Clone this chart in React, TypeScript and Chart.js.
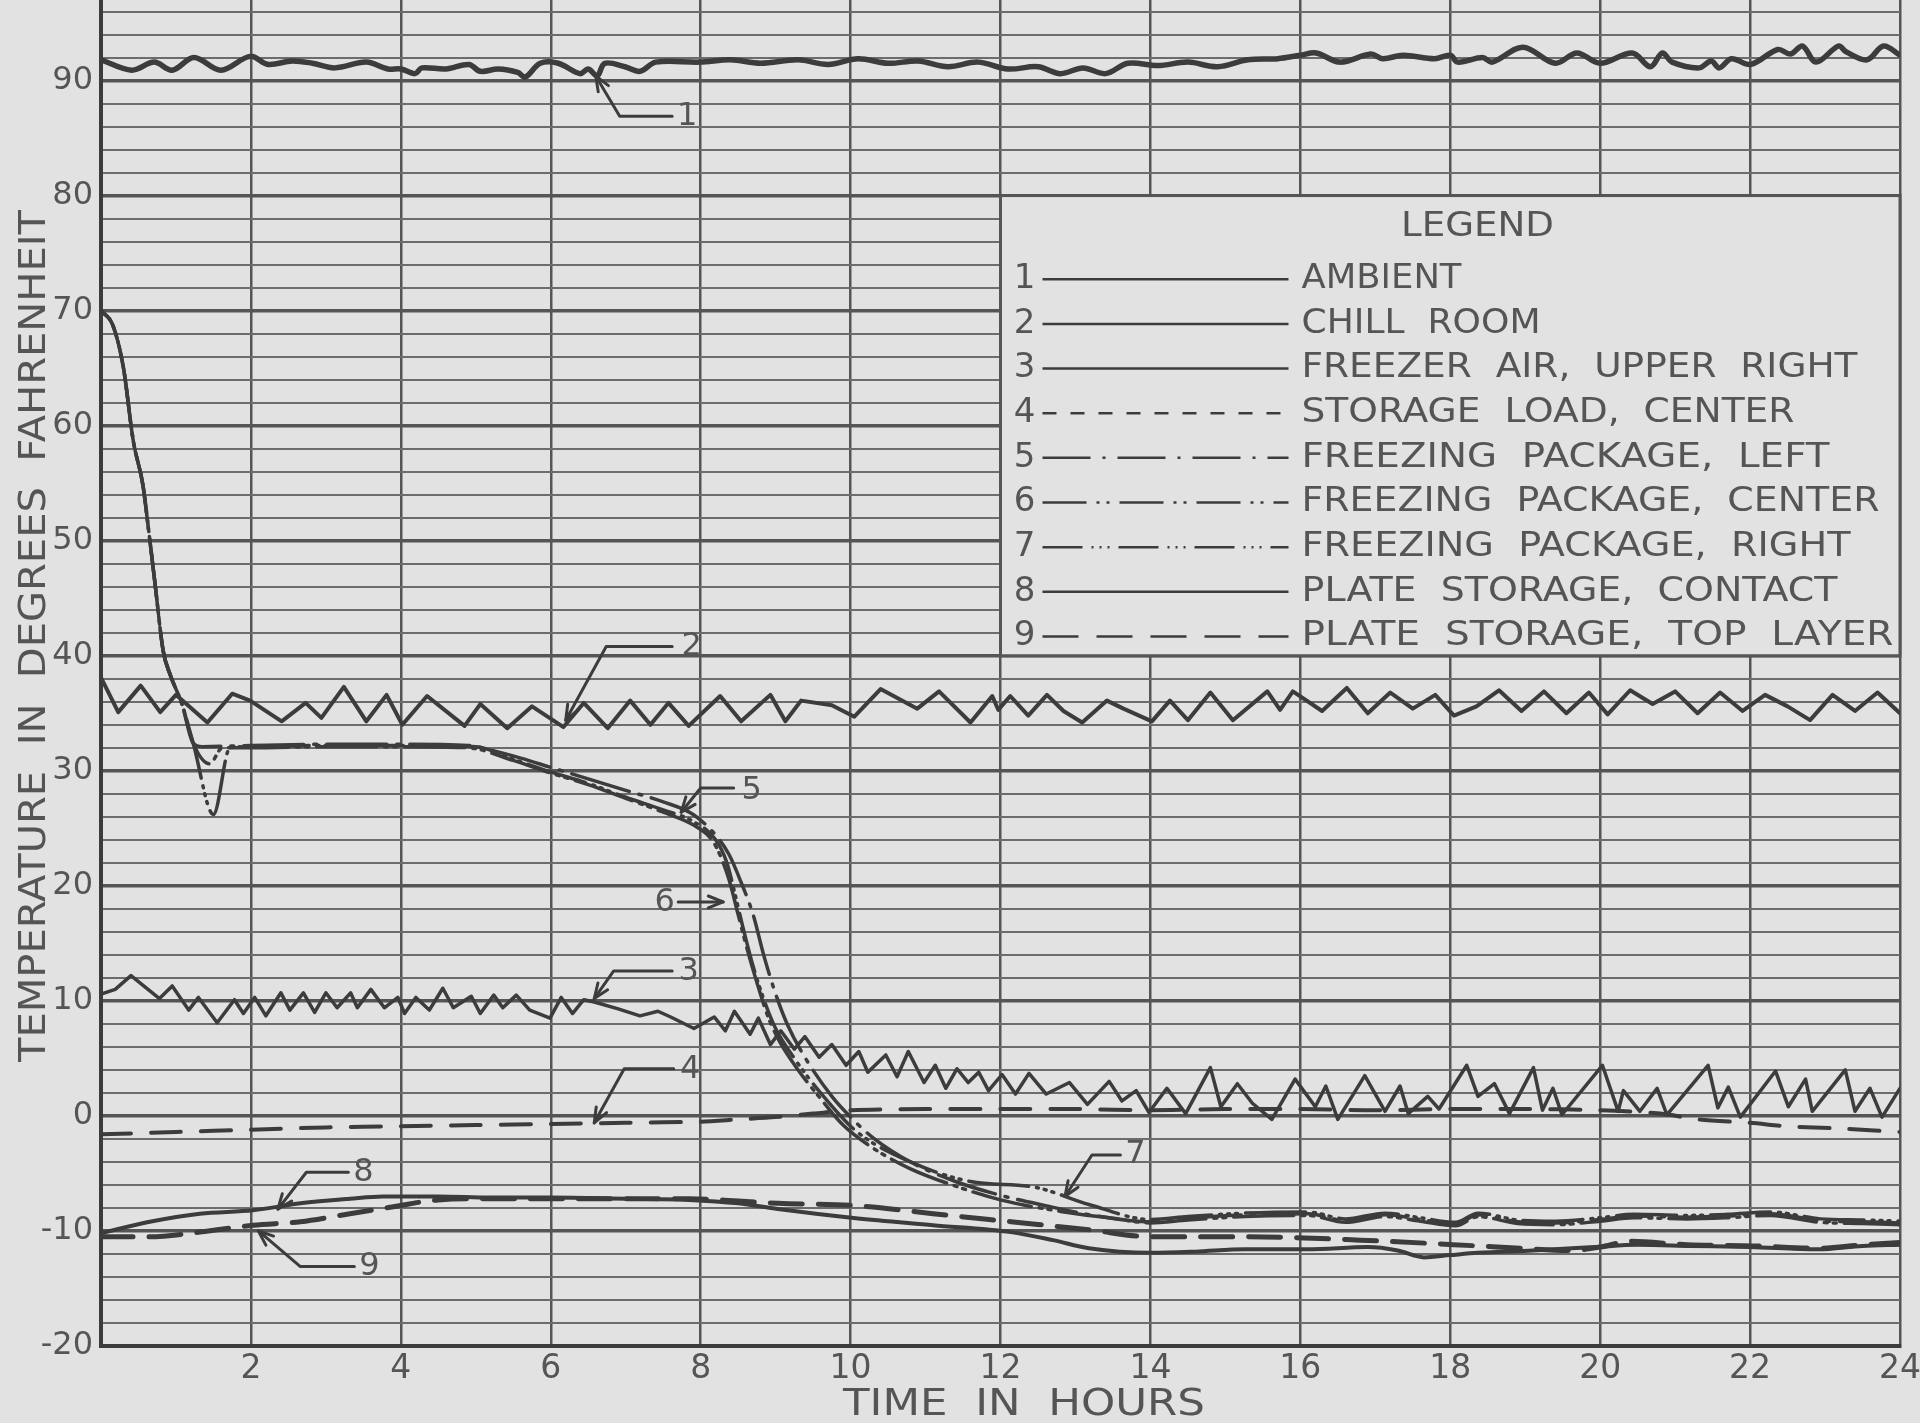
import React, { useEffect, useRef } from 'react';
import { Chart, registerables } from 'chart.js';

Chart.register(...registerables);

// ---------------- DATA (hours, degrees F) ----------------
const AMBIENT_HOURS = [0, 0.41, 0.71, 0.95, 1.24, 1.6, 1.99, 2.23, 2.55, 2.82, 3.12, 3.54, 3.83, 4.0, 4.19, 4.28, 4.6, 4.91, 5.06, 5.3, 5.56, 5.66, 5.86, 6.1, 6.39, 6.5, 6.62, 6.72, 6.99, 7.19, 7.4, 7.99, 8.4, 8.8, 9.3, 9.7, 10.1, 10.5, 10.9, 11.3, 11.7, 12.1, 12.5, 12.8, 13.1, 13.4, 13.7, 14.1, 14.5, 14.9, 15.3, 15.7, 16.0, 16.21, 16.53, 16.94, 17.1, 17.37, 17.79, 18.0, 18.1, 18.43, 18.56, 18.97, 19.4, 19.69, 20.0, 20.43, 20.67, 20.83, 20.96, 21.32, 21.48, 21.59, 21.75, 22.01, 22.37, 22.54, 22.7, 22.88, 23.18, 23.28, 23.56, 23.78, 24.0];
const AMBIENT_TEMPS = [91.8, 90.9, 91.6, 90.9, 92.0, 90.9, 92.1, 91.4, 91.7, 91.5, 91.1, 91.6, 91.0, 91.0, 90.6, 91.1, 91.0, 91.4, 90.8, 91.0, 90.7, 90.3, 91.5, 91.5, 90.6, 91.0, 90.4, 91.5, 91.2, 90.8, 91.6, 91.6, 91.8, 91.5, 91.8, 91.4, 91.9, 91.5, 91.7, 91.2, 91.6, 91.0, 91.2, 90.6, 91.1, 90.6, 91.5, 91.3, 91.6, 91.2, 91.8, 91.9, 92.2, 92.4, 91.6, 92.3, 91.9, 92.2, 91.9, 92.2, 91.6, 92.0, 91.6, 92.9, 91.5, 92.4, 91.5, 92.4, 91.2, 92.4, 91.6, 91.1, 91.7, 91.1, 91.9, 91.4, 92.7, 92.3, 93.0, 91.6, 93.0, 92.5, 91.8, 93.0, 92.2];

const CHILL_HOURS = [0, 0.23, 0.53, 0.79, 1.0, 1.42, 1.75, 1.99, 2.41, 2.73, 2.94, 3.24, 3.54, 3.81, 4.02, 4.35, 4.85, 5.06, 5.42, 5.75, 6.17, 6.44, 6.76, 7.06, 7.33, 7.57, 7.84, 8.26, 8.54, 8.93, 9.13, 9.34, 9.75, 10.05, 10.4, 10.89, 11.18, 11.6, 11.89, 11.97, 12.13, 12.37, 12.62, 12.84, 13.09, 13.42, 13.64, 14.02, 14.26, 14.5, 14.8, 15.1, 15.56, 15.73, 15.9, 16.29, 16.62, 16.9, 17.2, 17.5, 17.8, 18.05, 18.35, 18.65, 18.95, 19.25, 19.55, 19.85, 20.1, 20.4, 20.7, 21.0, 21.3, 21.6, 21.9, 22.2, 22.5, 22.8, 23.1, 23.4, 23.7, 24.0];
const CHILL_TEMPS = [38.1, 35.1, 37.4, 35.1, 36.6, 34.2, 36.7, 36.1, 34.3, 35.9, 34.6, 37.3, 34.3, 36.6, 34.0, 36.5, 33.9, 35.8, 33.7, 35.6, 33.8, 35.9, 33.7, 36.1, 34.0, 35.9, 33.9, 36.5, 34.3, 36.6, 34.3, 36.1, 35.7, 34.7, 37.1, 35.4, 36.9, 34.2, 36.5, 35.3, 36.5, 34.8, 36.6, 35.2, 34.2, 36.1, 35.4, 34.3, 36.1, 34.4, 36.8, 34.4, 36.9, 35.3, 36.9, 35.2, 37.2, 35.0, 36.8, 35.4, 36.6, 34.8, 35.6, 37.0, 35.2, 36.9, 35.0, 36.8, 34.9, 37.0, 35.8, 36.9, 35.0, 36.8, 35.2, 36.6, 35.6, 34.4, 36.6, 35.2, 36.8, 35.0];

const FREEZER_AIR_HOURS = [0, 0.19, 0.4, 0.78, 0.95, 1.17, 1.3, 1.55, 1.78, 1.9, 2.05, 2.2, 2.4, 2.52, 2.7, 2.85, 3.0, 3.15, 3.33, 3.42, 3.6, 3.78, 3.96, 4.05, 4.2, 4.38, 4.56, 4.7, 4.94, 5.06, 5.24, 5.36, 5.54, 5.72, 5.99, 6.14, 6.29, 6.44, 6.58, 6.9, 7.19, 7.43, 7.6, 7.91, 8.18, 8.33, 8.45, 8.66, 8.77, 8.93, 9.07, 9.25, 9.39, 9.58, 9.75, 9.94, 10.11, 10.23, 10.47, 10.62, 10.77, 10.98, 11.13, 11.27, 11.42, 11.57, 11.71, 11.84, 12.02, 12.2, 12.38, 12.61, 12.92, 13.16, 13.45, 13.62, 13.81, 13.98, 14.22, 14.47, 14.8, 14.94, 15.16, 15.36, 15.62, 15.93, 16.2, 16.34, 16.5, 16.86, 17.13, 17.33, 17.44, 17.7, 17.85, 18.22, 18.37, 18.59, 18.79, 19.11, 19.23, 19.37, 19.49, 20.03, 20.24, 20.31, 20.53, 20.76, 20.89, 21.44, 21.57, 21.71, 21.87, 22.34, 22.51, 22.74, 22.83, 23.27, 23.4, 23.6, 23.76, 24.0];
const FREEZER_AIR_TEMPS = [10.6, 11.0, 12.2, 10.2, 11.3, 9.2, 10.3, 8.1, 10.1, 8.9, 10.3, 8.7, 10.7, 9.2, 10.7, 9.0, 10.7, 9.4, 10.7, 9.4, 11.0, 9.4, 10.3, 8.9, 10.3, 9.2, 11.1, 9.4, 10.4, 8.9, 10.5, 9.4, 10.5, 9.2, 8.5, 10.3, 8.9, 10.1, 9.9, 9.3, 8.7, 9.1, 8.6, 7.6, 8.6, 7.4, 9.1, 7.1, 8.5, 6.2, 7.4, 5.8, 6.9, 5.1, 6.2, 4.4, 5.6, 3.8, 5.3, 3.4, 5.6, 2.9, 4.4, 2.4, 4.1, 2.9, 3.8, 2.2, 3.6, 1.9, 3.7, 1.9, 2.9, 1.0, 3.0, 1.3, 2.2, 0.3, 2.4, 0.2, 4.2, 0.8, 2.8, 1.1, -0.3, 3.2, 0.8, 2.6, -0.3, 3.5, 0.4, 2.6, 0.2, 1.7, 0.6, 4.4, 1.7, 2.8, 0.2, 4.2, 0.5, 2.4, 0.1, 4.4, 0.4, 2.2, 0.4, 2.4, 0.1, 4.4, 0.7, 2.5, -0.1, 3.9, 0.8, 3.2, 0.4, 4.0, 0.4, 2.4, -0.1, 2.4];

const STORAGE_LOAD_HOURS = [0, 1, 2, 3, 4, 5, 6, 7, 8, 8.5, 9, 9.5, 10, 11, 12, 13, 14, 15, 16, 17, 18, 19, 20, 20.8, 21.3, 22, 22.5, 23.2, 24];
const STORAGE_LOAD_TEMPS = [-1.6, -1.4, -1.2, -1.0, -0.9, -0.8, -0.7, -0.6, -0.5, -0.3, -0.1, 0.2, 0.5, 0.6, 0.6, 0.6, 0.5, 0.6, 0.6, 0.5, 0.6, 0.6, 0.5, 0.2, -0.3, -0.6, -0.9, -1.1, -1.4];

const PKG_LEFT_HOURS = [0, 0.16, 0.3, 0.43, 0.56, 0.63, 0.72, 0.83, 0.92, 1.08, 1.23, 1.35, 2, 3, 4, 4.9, 5.2, 5.6, 6.0, 6.5, 7.0, 7.5, 7.9, 8.2, 8.38, 8.54, 8.7, 8.84, 8.99, 9.16, 9.39, 9.75, 10.0, 10.3, 10.8, 11.4, 12.0, 12.6, 13.2, 14.0, 14.5, 15.26, 16.1, 16.6, 17.13, 17.6, 18.07, 18.37, 18.9, 19.41, 20.0, 20.45, 21.16, 21.7, 22.27, 22.94, 23.5, 24];
const PKG_LEFT_TEMPS = [70, 68.7, 65.0, 58.7, 54.8, 51.2, 46.3, 40.4, 38.4, 35.8, 32.4, 32.1, 32.2, 32.3, 32.3, 32.2, 31.8, 31.1, 30.3, 29.3, 28.3, 27.3, 26.2, 24.4, 22.7, 20.3, 17.5, 14.0, 10.8, 7.9, 5.1, 1.7, -0.1, -1.9, -4.0, -5.7, -6.9, -7.8, -8.6, -9.2, -8.9, -8.6, -8.5, -9.1, -8.6, -9.0, -9.4, -8.6, -9.2, -9.3, -9.0, -8.7, -8.8, -8.7, -8.5, -9.1, -9.2, -9.3];

const PKG_CENTER_HOURS = [0, 0.16, 0.3, 0.43, 0.56, 0.63, 0.72, 0.83, 0.92, 1.08, 1.23, 1.45, 1.62, 2, 3, 4, 4.9, 5.5, 6.0, 6.5, 7.0, 7.5, 7.9, 8.15, 8.27, 8.38, 8.5, 8.62, 8.75, 8.9, 9.05, 9.3, 9.6, 9.9, 10.3, 10.8, 11.4, 12.0, 12.8, 13.5, 14.0, 14.5, 15.26, 16.1, 16.6, 17.13, 17.6, 18.07, 18.37, 18.9, 19.41, 20.0, 20.45, 21.16, 21.7, 22.27, 22.94, 23.5, 24];
const PKG_CENTER_TEMPS = [70, 68.7, 65.0, 58.7, 54.8, 51.2, 46.3, 40.4, 38.4, 35.8, 32.4, 30.6, 32.0, 32.0, 32.1, 32.1, 32.0, 30.9, 29.8, 28.8, 27.6, 26.4, 25.3, 24.0, 22.5, 20.5, 17.5, 14.5, 11.6, 8.6, 6.5, 4.0, 1.5, -0.8, -2.8, -4.6, -6.1, -7.3, -8.3, -8.9, -9.3, -9.05, -8.75, -8.65, -9.25, -8.75, -9.15, -9.55, -8.75, -9.35, -9.45, -9.15, -8.85, -8.95, -8.85, -8.65, -9.25, -9.35, -9.45];

const PKG_RIGHT_HOURS = [0, 0.16, 0.3, 0.43, 0.56, 0.63, 0.72, 0.83, 0.92, 1.08, 1.23, 1.5, 1.72, 2, 3, 4, 5.0, 5.5, 6.0, 6.5, 7.0, 7.5, 7.9, 8.2, 8.35, 8.45, 8.56, 8.7, 8.85, 9.0, 9.25, 9.6, 10.07, 10.8, 11.6, 12.46, 13.18, 14.0, 14.5, 15.26, 16.1, 16.6, 17.13, 17.6, 18.07, 18.37, 18.9, 19.41, 20.0, 20.45, 21.16, 21.7, 22.27, 22.94, 23.5, 24];
const PKG_RIGHT_TEMPS = [70, 68.7, 65.0, 58.7, 54.8, 51.2, 46.3, 40.4, 38.4, 35.8, 32.4, 26.2, 32.0, 32.1, 32.2, 32.2, 32.1, 31.0, 29.9, 28.9, 27.7, 26.6, 25.6, 24.0, 22.0, 19.5, 16.5, 13.0, 10.0, 7.6, 5.0, 2.0, -1.3, -4.0, -5.7, -6.2, -7.7, -9.0, -8.75, -8.45, -8.35, -8.95, -8.45, -8.85, -9.25, -8.45, -9.05, -9.15, -8.85, -8.55, -8.65, -8.55, -8.35, -8.95, -9.05, -9.15];

const PLATE_CONTACT_HOURS = [0, 0.65, 1.32, 2.03, 2.66, 3.32, 3.76, 4.5, 5.2, 6.0, 7.0, 7.84, 8.5, 9.03, 10.07, 11.1, 12.14, 12.7, 13.18, 14.0, 14.6, 15.26, 16.1, 16.9, 17.3, 17.65, 18.0, 18.37, 19.1, 19.93, 20.5, 21.2, 22.0, 22.9, 23.5, 24];
const PLATE_CONTACT_TEMPS = [-10.2, -9.2, -8.5, -8.2, -7.6, -7.2, -7.0, -7.0, -7.1, -7.1, -7.2, -7.3, -7.6, -8.1, -8.9, -9.5, -10.1, -10.8, -11.5, -11.9, -11.8, -11.6, -11.6, -11.4, -11.7, -12.3, -12.1, -11.9, -11.7, -11.4, -11.2, -11.3, -11.4, -11.6, -11.3, -11.2];

const PLATE_TOP_HOURS = [0, 0.65, 1.32, 2.03, 2.66, 3.32, 3.9, 4.5, 5.2, 6.0, 7.0, 7.84, 8.5, 9.03, 10.07, 11.1, 12.14, 13.18, 14.0, 15.26, 16.8, 18.37, 18.93, 19.6, 20.0, 20.4, 21.16, 22.04, 22.93, 23.5, 24];
const PLATE_TOP_TEMPS = [-10.5, -10.5, -10.1, -9.5, -9.2, -8.5, -7.9, -7.3, -7.2, -7.2, -7.2, -7.2, -7.4, -7.6, -7.8, -8.5, -9.2, -9.9, -10.5, -10.5, -10.8, -11.3, -11.5, -11.7, -11.4, -10.9, -11.2, -11.3, -11.5, -11.2, -11.0];

const SERIES_NAMES = [
  'AMBIENT',
  'CHILL  ROOM',
  'FREEZER  AIR,  UPPER  RIGHT',
  'STORAGE  LOAD,  CENTER',
  'FREEZING  PACKAGE,  LEFT',
  'FREEZING  PACKAGE,  CENTER',
  'FREEZING  PACKAGE,  RIGHT',
  'PLATE  STORAGE,  CONTACT',
  'PLATE  STORAGE,  TOP  LAYER',
];

const X_LABEL_VALUES = [2, 4, 6, 8, 10, 12, 14, 16, 18, 20, 22, 24];
const Y_LABEL_VALUES = [-20, -10, 0, 10, 20, 30, 40, 50, 60, 70, 80, 90];

// ---------------- STYLE / LAYOUT ----------------
const PAPER = '#e2e2e2';
const INK = '#3c3c3c';
const TEXT = '#555555';
const GRID_HEAVY = '#555555';
const GRID_LIGHT = '#6c6c6c';
const FONT = '"DejaVu Sans", "Liberation Sans", sans-serif';

const SERIES_STYLE = [
  { width: 5.5, dash: [] as number[], tension: 0.35 },
  { width: 4, dash: [], tension: 0 },
  { width: 3.5, dash: [], tension: 0 },
  { width: 4, dash: [30, 20], tension: 0.3 },
  { width: 3.5, dash: [60, 10, 3, 10], mono: true, offset: 0 },
  { width: 3.5, dash: [60, 8, 3, 6, 3, 8], mono: true, offset: 27 },
  { width: 3.5, dash: [60, 8, 2, 6, 2, 6, 2, 8], mono: true, offset: 48 },
  { width: 4, dash: [], mono: true },
  { width: 5, dash: [32, 16], mono: true },
];
const LEGEND_DASH = [[], [], [], [14, 14], [48, 12, 3, 12], [44, 10, 3, 7, 3, 10], [40, 9, 2, 6, 2, 6, 2, 9], [], [36, 18]];
const LEGEND_TEXT_WIDTHS = [160, 239, 556, 493, 528, 578, 549, 536, 592];

const ANNOTATIONS = [
  { label: '1', tip: [6.6, 90.4], elbow: [6.92, 86.9], end: [7.62, 86.9], text: [7.82, 86.9] },
  { label: '2', tip: [6.2, 34.4], elbow: [6.74, 40.8], end: [7.62, 40.8], text: [7.88, 40.8] },
  { label: '3', tip: [6.58, 10.2], elbow: [6.84, 12.6], end: [7.62, 12.6], text: [7.84, 12.5] },
  { label: '4', tip: [6.58, -0.6], elbow: [6.98, 4.1], end: [7.64, 4.1], text: [7.86, 4.0] },
  { label: '5', tip: [7.74, 26.4], elbow: [8.0, 28.5], end: [8.44, 28.5], text: [8.68, 28.3] },
  { label: '6', tip: [8.3, 18.6], elbow: null, end: [7.7, 18.6], text: [7.52, 18.5] },
  { label: '7', tip: [12.86, -7.0], elbow: [13.22, -3.4], end: [13.6, -3.4], text: [13.8, -3.4] },
  { label: '8', tip: [2.36, -8.1], elbow: [2.74, -4.9], end: [3.3, -4.9], text: [3.5, -4.9] },
  { label: '9', tip: [2.1, -10.0], elbow: [2.66, -13.1], end: [3.38, -13.1], text: [3.58, -13.1] },
];

function toPoints(h: number[], t: number[]) {
  return h.map((x, i) => ({ x, y: t[i] }));
}

function fitText(ctx: CanvasRenderingContext2D, text: string, x: number, y: number, width: number, align: CanvasTextAlign) {
  const w = ctx.measureText(text).width || 1;
  ctx.save();
  ctx.translate(x, y);
  ctx.scale(width / w, 1);
  ctx.textAlign = align;
  ctx.fillText(text, 0, 0);
  ctx.restore();
}

const paperPlugin = {
  id: 'paper',
  beforeDraw(chart: any) {
    const { ctx, width, height } = chart;
    ctx.save();
    ctx.fillStyle = PAPER;
    ctx.fillRect(0, 0, width, height);
    ctx.restore();
  },
};

const legendBoxPlugin = {
  id: 'legendBox',
  beforeDatasetsDraw(chart: any) {
    const { ctx, scales } = chart;
    const x = scales.x, y = scales.y;
    const left = x.getPixelForValue(12), right = x.getPixelForValue(24);
    const top = y.getPixelForValue(80), bottom = y.getPixelForValue(40);
    const h = bottom - top;
    ctx.save();
    ctx.fillStyle = PAPER;
    ctx.fillRect(left, top, right - left, h);
    ctx.strokeStyle = GRID_HEAVY;
    ctx.lineWidth = 3;
    ctx.strokeRect(left, top, right - left, h);

    ctx.fillStyle = TEXT;
    ctx.textBaseline = 'middle';
    ctx.font = `34px ${FONT}`;
    fitText(ctx, 'LEGEND', left + 477, top + 0.069 * h, 153, 'center');

    for (let i = 0; i < SERIES_NAMES.length; i++) {
      const ry = top + (0.182 + i * 0.097) * h;
      ctx.fillStyle = TEXT;
      ctx.font = `34px ${FONT}`;
      ctx.textAlign = 'center';
      ctx.fillText(String(i + 1), left + 24, ry);
      ctx.save();
      ctx.strokeStyle = INK;
      ctx.lineWidth = 2.5;
      ctx.setLineDash(LEGEND_DASH[i]);
      ctx.beginPath();
      ctx.moveTo(left + 42, ry);
      ctx.lineTo(left + 288, ry);
      ctx.stroke();
      ctx.restore();
      fitText(ctx, SERIES_NAMES[i], left + 301, ry, LEGEND_TEXT_WIDTHS[i], 'left');
    }
    ctx.restore();
  },
};

const annotationPlugin = {
  id: 'annotations',
  afterDatasetsDraw(chart: any) {
    const { ctx, scales } = chart;
    const px = (p: number[]) => [scales.x.getPixelForValue(p[0]), scales.y.getPixelForValue(p[1])];
    ctx.save();
    ctx.strokeStyle = INK;
    ctx.fillStyle = TEXT;
    ctx.lineWidth = 3;
    ctx.lineCap = 'round';
    ctx.lineJoin = 'round';
    for (const a of ANNOTATIONS) {
      const tip = px(a.tip);
      const end = px(a.end);
      const from = a.elbow ? px(a.elbow) : end;
      ctx.beginPath();
      ctx.moveTo(end[0], end[1]);
      if (a.elbow) ctx.lineTo(from[0], from[1]);
      ctx.lineTo(tip[0], tip[1]);
      ctx.stroke();
      const ang = Math.atan2(tip[1] - from[1], tip[0] - from[0]);
      const L = 16, spread = 0.38;
      ctx.beginPath();
      ctx.moveTo(tip[0] - L * Math.cos(ang - spread), tip[1] - L * Math.sin(ang - spread));
      ctx.lineTo(tip[0], tip[1]);
      ctx.lineTo(tip[0] - L * Math.cos(ang + spread), tip[1] - L * Math.sin(ang + spread));
      ctx.stroke();
      const t = px(a.text);
      ctx.font = `32px ${FONT}`;
      ctx.textAlign = 'center';
      ctx.textBaseline = 'middle';
      ctx.fillText(a.label, t[0], t[1]);
    }
    ctx.restore();
  },
};

const axisTitlePlugin = {
  id: 'axisTitles',
  afterDraw(chart: any) {
    const { ctx } = chart;
    ctx.save();
    ctx.fillStyle = TEXT;
    ctx.textBaseline = 'middle';
    ctx.font = `38px ${FONT}`;
    fitText(ctx, 'TIME  IN  HOURS', 1024, 1405, 362, 'center');
    ctx.save();
    ctx.translate(35, 636);
    ctx.rotate(-Math.PI / 2);
    fitText(ctx, 'TEMPERATURE  IN  DEGREES  FAHRENHEIT', 0, 0, 852, 'center');
    ctx.restore();
    ctx.restore();
  },
};

export default function App() {
  const ref = useRef<HTMLCanvasElement | null>(null);

  useEffect(() => {
    if (!ref.current) return;
    const sources = [
      [AMBIENT_HOURS, AMBIENT_TEMPS],
      [CHILL_HOURS, CHILL_TEMPS],
      [FREEZER_AIR_HOURS, FREEZER_AIR_TEMPS],
      [STORAGE_LOAD_HOURS, STORAGE_LOAD_TEMPS],
      [PKG_LEFT_HOURS, PKG_LEFT_TEMPS],
      [PKG_CENTER_HOURS, PKG_CENTER_TEMPS],
      [PKG_RIGHT_HOURS, PKG_RIGHT_TEMPS],
      [PLATE_CONTACT_HOURS, PLATE_CONTACT_TEMPS],
      [PLATE_TOP_HOURS, PLATE_TOP_TEMPS],
    ];
    const datasets = sources.map(([h, t], i) => {
      const st: any = SERIES_STYLE[i];
      return {
        label: SERIES_NAMES[i],
        data: toPoints(h, t),
        borderColor: INK,
        borderWidth: st.width,
        borderDash: st.dash,
        borderDashOffset: st.offset || 0,
        borderCapStyle: 'round' as const,
        borderJoinStyle: 'round' as const,
        pointRadius: 0,
        fill: false,
        tension: st.mono ? 0.4 : st.tension,
        cubicInterpolationMode: st.mono ? ('monotone' as const) : ('default' as const),
      };
    });

    const chart = new Chart(ref.current, {
      type: 'line',
      data: { datasets },
      options: {
        animation: false,
        responsive: false,
        devicePixelRatio: 1,
        layout: { padding: { left: 0, right: 20, top: 0, bottom: 0 } },
        plugins: { legend: { display: false }, tooltip: { enabled: false } },
        scales: {
          x: {
            type: 'linear',
            min: 0,
            max: 24,
            afterBuildTicks(scale: any) {
              scale.ticks = [0, ...X_LABEL_VALUES].map((v) => ({ value: v }));
            },
            afterFit(scale: any) {
              scale.height = 77;
              scale.paddingLeft = 0;
              scale.paddingRight = 0;
            },
            ticks: {
              autoSkip: false,
              maxRotation: 0,
              padding: 4,
              color: TEXT,
              font: { family: FONT, size: 33 },
              callback: (v: any) => (X_LABEL_VALUES.includes(Number(v)) ? String(v) : ''),
            },
            grid: { color: GRID_HEAVY, lineWidth: 2.5, drawTicks: false },
            border: { color: INK, width: 4 },
          },
          y: {
            type: 'linear',
            min: -20,
            max: 97,
            afterBuildTicks(scale: any) {
              const t: any[] = [];
              for (let v = -20; v <= 96; v += 2) t.push({ value: v });
              scale.ticks = t;
            },
            afterFit(scale: any) {
              scale.width = 101;
              scale.paddingTop = 0;
              scale.paddingBottom = 0;
            },
            ticks: {
              autoSkip: false,
              padding: 8,
              color: TEXT,
              font: { family: FONT, size: 32 },
              callback: (v: any) => (Y_LABEL_VALUES.includes(Number(v)) ? String(v) : ''),
            },
            grid: {
              drawTicks: false,
              color: (c: any) => (c.tick && c.tick.value % 10 === 0 ? GRID_HEAVY : GRID_LIGHT),
              lineWidth: (c: any) => (c.tick && c.tick.value % 10 === 0 ? 3.5 : 2),
            },
            border: { color: INK, width: 4 },
          },
        },
      },
      plugins: [paperPlugin, legendBoxPlugin, annotationPlugin, axisTitlePlugin],
    });
    return () => chart.destroy();
  }, []);

  return (
    <div style={{ position: 'fixed', left: 0, top: 0, width: 1920, height: 1423, background: PAPER }}>
      <canvas ref={ref} width={1920} height={1423} style={{ display: 'block' }} />
    </div>
  );
}
